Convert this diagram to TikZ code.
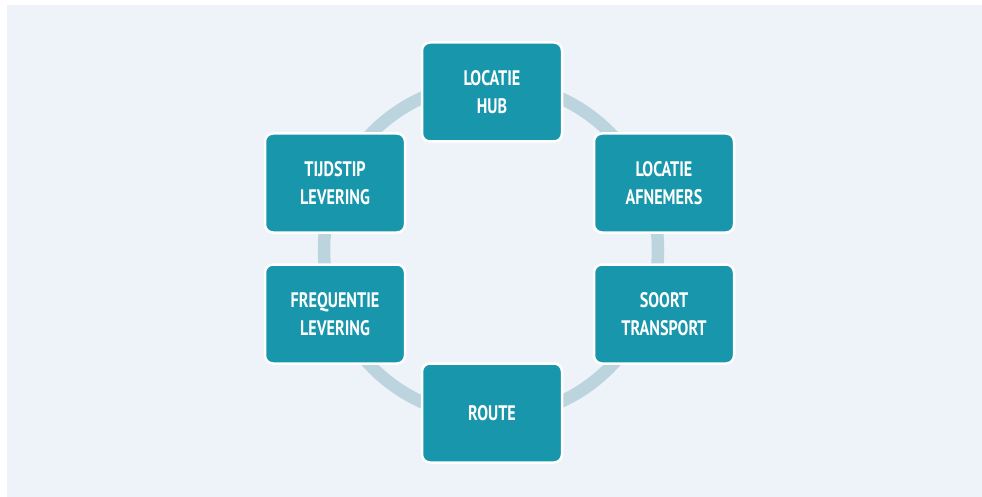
\documentclass[tikz,border=0pt]{standalone}
\usepackage{fontspec}
\setmainfont{PT Sans}[FakeStretch=0.77]
\usepackage{tikz}

\definecolor{bgblue}{RGB}{238,243,250}
\definecolor{ringblue}{RGB}{188,212,222}
\definecolor{boxteal}{RGB}{24,150,171}

\tikzset{
	factor/.style={draw=white, line width=2.5pt, fill=boxteal, rounded corners=8pt,
		minimum width=140pt, minimum height=99pt, inner sep=0pt, align=center,
		text=white, font=\bfseries\fontsize{21}{28.5}\selectfont}
}

\begin{document}
\begin{tikzpicture}[x=1pt,y=-1pt]

\useasboundingbox (0,0) rectangle (982,497);
\fill[bgblue] (7,5) rectangle (982,497);

% ring behind the boxes
\draw[ringblue, line width=12.5pt] (491,250) circle[radius=167pt];

\node[factor] (hub) at (492,92) {LOCATIE\\HUB};
\node[factor] (afnemers) at (664,183) {LOCATIE\\AFNEMERS};
\node[factor] (transport) at (664,314) {SOORT\\TRANSPORT};
\node[factor] (route) at (492,413) {ROUTE};
\node[factor] (frequentie) at (335,314) {FREQUENTIE\\LEVERING};
\node[factor] (tijdstip) at (335,183) {TIJDSTIP\\LEVERING};

\end{tikzpicture}
\end{document}
